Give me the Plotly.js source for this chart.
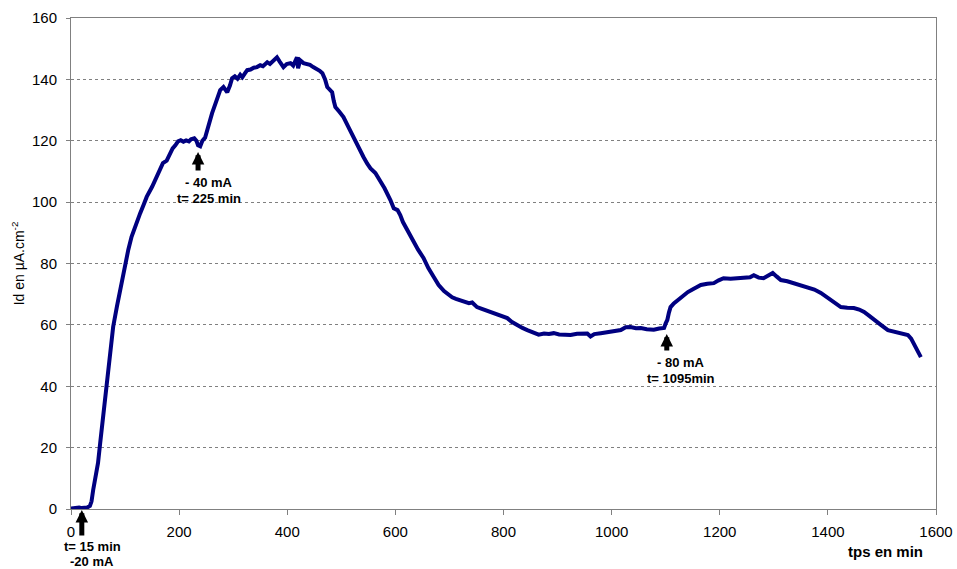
<!DOCTYPE html>
<html>
<head>
<meta charset="utf-8">
<script src="https://cdn.plot.ly/plotly-3.0.1.min.js"></script>
<style>html,body{margin:0;padding:0;background:#fff;}#chart{width:957px;height:569px;}</style>
</head>
<body>
<div id="chart"></div>
<script>
// time in minutes
const tps = [0,5,10,15,20,25,30,35,38,41,45,50,54,60,66,72,78,85,91,100,106,112,120,128,134,140,150,159,165,170,177,183,188,193,198,203,208,213,218,222,228,232,235,239,243,248,254,261,268,276,282,289,294,298,303,308,313,317,322,326,332,338,344,350,355,363,368,374,381,386,393,399,406,411,415,418,420,424,430,436,442,448,455,460,465,470,474,479,483,486,489,496,504,513,522,531,541,548,554,563,572,580,591,597,604,609,614,619,626,633,642,652,661,671,680,690,698,705,712,720,728,736,742,751,760,770,782,795,807,815,825,835,844,855,865,875,884,893,903,914,924,936,948,955,961,968,980,990,1000,1008,1017,1026,1035,1045,1054,1065,1078,1088,1097,1100,1103,1106,1109,1115,1122,1130,1141,1152,1165,1177,1189,1198,1207,1220,1233,1245,1256,1263,1272,1281,1290,1298,1305,1313,1325,1337,1350,1363,1375,1387,1399,1411,1418,1424,1436,1448,1458,1467,1476,1485,1498,1511,1522,1535,1548,1554,1559,1565,1572];
// Id in µA.cm-2
const id = [0.2,0.4,0.3,0.5,0.3,0.4,0.5,1,2.5,6.2,10,15,21.5,31,39.8,50,59.4,66,71.3,80.1,84.5,88.7,93,96.4,99,101.7,105,108.2,110.5,112.7,113.5,116,117.5,118.5,119.8,120.2,119.7,120.1,119.8,120.5,120.8,120,118.5,118.2,120,121,125,129,132.5,136.5,137.5,135.8,138,140.4,141,140.2,141.5,140.7,142,143,143.2,143.8,144,144.6,144.3,145.6,145,146,147.2,145.8,144,145,145.3,144.5,146,147.2,143.6,146.2,145.3,145,144.7,144,143.5,142.8,142,140,137.5,136.5,135.8,133,131,129.5,127.7,124.5,121.2,118,114.7,112.5,111,109.5,107,104.5,100.6,98,97.4,95.8,93.5,91.9,89.5,87,84.5,81.8,78.5,75.6,73,71,69.7,69,68.5,68.1,67.5,67.1,67.3,65.8,65.2,64.6,63.8,63,62.2,61,59.9,59,58.3,57.5,56.8,57.2,57,57.3,56.9,56.8,56.7,57.1,57.3,57.2,56.2,57,57.3,57.5,57.8,58,58.3,59.2,59.3,58.9,59,58.6,58.4,58.8,59,60.5,61.6,64,65.8,67,68,69.2,70.7,71.8,73,73.4,73.6,74.5,75.2,75,75.2,75.6,75.5,76.2,75.4,75.2,76.3,76.9,75.8,74.6,74.2,73.6,73,72.3,71.5,70.4,69,67.4,66.5,65.8,65.6,65.5,65,64.2,63,61.6,60,58.3,57.8,57.3,56.7,55.5,54,52,49.5];

const xTicks = [0,200,400,600,800,1000,1200,1400,1600];
const yTicks = [0,20,40,60,80,100,120,140,160];
const xTitle = 'tps en min';
const yTitle = 'Id en µA.cm<sup>-2</sup>';
// current steps: time of the arrow, label lines
const eventTimes = [20, 235, 1102];
const eventTop = ['t= 15 min', '- 40 mA', '- 80 mA'];
const eventBottom = ['-20 mA', 't= 225 min', 't= 1095min'];

const FONT = 'Liberation Sans, Arial, sans-serif';
const PLOT_TOP = 18, PLOT_H = 491, PLOT_L = 71, PLOT_W = 865;
const py = p => 1 - (p - PLOT_TOP) / PLOT_H;   // pixel row -> paper y
const px = p => (p - PLOT_L) / PLOT_W;         // pixel col -> paper x

// layout positions (pixels) for arrows and labels
const arrowTipY = [510, 152, 334];
const arrowLen = [27, 20, 18];
const labelX = [92, 209, 681];
const labelY1 = [546, 182, 362];
const labelY2 = [561, 198, 378];

const annotations = [];
for (let i = 0; i < eventTimes.length; i++) {
  annotations.push({
    x: eventTimes[i], y: py(arrowTipY[i]), xref: 'x', yref: 'paper',
    text: '', showarrow: true, ax: 0, ay: arrowLen[i],
    arrowhead: 2, arrowsize: 0.5, arrowwidth: 5, arrowcolor: '#000', standoff: 0
  });
  annotations.push({
    x: px(labelX[i]), y: py(labelY1[i]), xref: 'paper', yref: 'paper', showarrow: false,
    xanchor: 'center', yanchor: 'middle',
    text: '<b>' + eventTop[i] + '</b>', font: {family: FONT, size: 13, color: '#000'}
  });
  annotations.push({
    x: px(labelX[i]), y: py(labelY2[i]), xref: 'paper', yref: 'paper', showarrow: false,
    xanchor: 'center', yanchor: 'middle',
    text: '<b>' + eventBottom[i] + '</b>', font: {family: FONT, size: 13, color: '#000'}
  });
}
annotations.push({
  x: px(885), y: py(551), xref: 'paper', yref: 'paper', showarrow: false,
  xanchor: 'center', yanchor: 'middle',
  text: '<b>' + xTitle + '</b>', font: {family: FONT, size: 15, color: '#000'}
});

const trace = {
  x: tps, y: id, type: 'scatter', mode: 'lines',
  line: {color: '#000080', width: 4}, hoverinfo: 'skip'
};

const layout = {
  width: 957, height: 569,
  margin: {l: 71, r: 21, t: 18, b: 60},
  paper_bgcolor: '#fff', plot_bgcolor: '#fff',
  showlegend: false,
  font: {family: FONT, size: 15, color: '#000'},
  xaxis: {
    range: [0, 1600], tickvals: xTicks, ticktext: xTicks.map(String),
    showgrid: false, zeroline: false,
    showline: true, mirror: true, linecolor: '#808080', linewidth: 1,
    ticks: 'outside', ticklen: 5, tickcolor: '#808080', ticklabelstandoff: 4,
    tickfont: {family: FONT, size: 15, color: '#000'}
  },
  yaxis: {
    range: [0, 160], tickvals: yTicks, ticktext: yTicks.map(String),
    showgrid: true, gridcolor: '#808080', gridwidth: 1, griddash: 'dot',
    zeroline: false,
    showline: true, mirror: true, linecolor: '#808080', linewidth: 1,
    ticks: 'outside', ticklen: 4, tickcolor: '#808080', ticklabelstandoff: 6,
    tickfont: {family: FONT, size: 15, color: '#000'},
    title: {text: yTitle, font: {family: FONT, size: 14, color: '#000'}, standoff: 4},
    automargin: false
  },
  annotations: annotations
};

Plotly.newPlot('chart', [trace], layout, {staticPlot: true, displayModeBar: false});
</script>
</body>
</html>
